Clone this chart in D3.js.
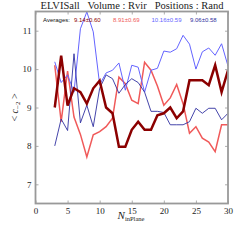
<!DOCTYPE html>
<html>
<head>
<meta charset="utf-8">
<script src="https://cdn.jsdelivr.net/npm/d3@7"></script>
<style>
body { margin: 0; background: #fff; }
svg { display: block; }
</style>
</head>
<body>
<div class="container"></div>
<script>
// Data
const nPlane = [3,4,5,6,7,8,9,10,11,12,13,14,15,16,17,18,19,20,21,22,23,24,25,26,27,28,29,30];
const darkRed = [9.0,10.35,9.05,9.5,9.4,9.1,9.5,9.7,9.0,8.85,7.98,7.98,8.42,8.63,8.42,8.42,8.8,8.85,9.0,8.72,8.9,9.71,9.71,9.71,9.58,10.1,9.4,9.97];
const lightRed = [10.1,8.63,9.95,8.75,8.3,7.71,8.29,8.37,8.5,8.72,9.79,9.62,9.19,9.1,10.18,9.97,9.56,9.06,9.25,9.6,9.1,8.33,8.5,8.2,8.1,7.85,8.55,8.55];
const lightBlue = [10.19,9.65,9.85,9.4,11.05,11.49,10.97,9.6,9.9,9.97,10.16,9.45,10.1,10.05,9.4,9.97,10.02,10.47,10.44,10.53,10.88,10.65,10.0,10.45,10.55,10.36,10.66,10.08];
const darkBlue = [8.0,8.7,8.4,10.4,8.6,9.06,8.5,9.5,9.85,9.75,9.37,9.6,9.75,9.65,9.4,8.9,8.9,8.87,8.55,8.55,8.55,8.63,8.98,8.85,8.98,8.98,8.68,8.85];
const averages = ["9.14\u00b10.60","8.91\u00b10.69","10.16\u00b10.59","9.06\u00b10.58"];
const xTicks = [0,5,10,15,20,25,30];
const yTicks = [7,8,9,10,11];

const w = 240, h = 240;
const padL = 35.5, padR = 228, padT = 11.5, padB = 203.5;

const series = [
  {vals: darkRed, color: "#8b0000", width: 2.5},
  {vals: lightRed, color: "#f05a5a", width: 1.5},
  {vals: lightBlue, color: "#6464ff", width: 1},
  {vals: darkBlue, color: "#3030a0", width: 0.9}
];

const xScale = d3.scaleLinear().domain([0,30]).range([padL, padR]);
const yScale = d3.scaleLinear().domain([6.5,11.5]).range([padB, padT]);

const svg = d3.select(".container").append("svg")
  .attr("width", w).attr("height", h);

svg.append("defs").append("clipPath").attr("id","clip")
  .append("rect").attr("x",padL).attr("y",padT)
  .attr("width",padR-padL).attr("height",padB-padT);

// lines (draw order so thick dark red sits on top)
const line = d3.line().x((d,i) => xScale(nPlane[i])).y(d => yScale(d));
const order = [1,2,3,0];
order.forEach(k => {
  const s = series[k];
  svg.append("path")
    .attr("clip-path","url(#clip)")
    .attr("d", line(s.vals))
    .attr("fill","none")
    .attr("stroke", s.color)
    .attr("stroke-width", s.width)
    .attr("stroke-linejoin","miter");
});

// axes
const serif = "'Liberation Serif', 'DejaVu Serif', serif";
const xAxis = d3.axisBottom(xScale).tickValues(xTicks).tickSize(-3).tickPadding(4).tickFormat(d3.format("d"));
const gx = svg.append("g").attr("transform", `translate(0,${padB})`).call(xAxis);
const yAxis = d3.axisLeft(yScale).tickValues(yTicks).tickSize(-3).tickPadding(4).tickFormat(d3.format("d"));
const gy = svg.append("g").attr("transform", `translate(${padL},0)`).call(yAxis);
const gx2 = svg.append("g").attr("transform", `translate(0,${padT})`)
  .call(d3.axisTop(xScale).tickValues(xTicks).tickSize(-3).tickFormat(""));
const gy2 = svg.append("g").attr("transform", `translate(${padR},0)`)
  .call(d3.axisRight(yScale).tickValues(yTicks).tickSize(-3).tickFormat(""));
[gx, gy, gx2, gy2].forEach(g => {
  g.select(".domain").remove();
  g.selectAll(".tick line").attr("stroke","#999").attr("stroke-width",0.8);
  g.selectAll("text").attr("fill","#222").style("font-family", serif).style("font-size","9px");
});

// frame
svg.append("rect")
  .attr("x", padL).attr("y", padT)
  .attr("width", padR-padL).attr("height", padB-padT)
  .attr("fill","none").attr("stroke","#999").attr("stroke-width",1.8);

// title
svg.append("text")
  .attr("x", 132).attr("y", 9)
  .attr("text-anchor","middle")
  .style("font-family", serif).style("font-size","10.5px")
  .style("white-space","pre")
  .attr("fill","#222")
  .text("ELVISall   Volume : Rvir   Positions : Rand");

// averages row
const sans = "'Liberation Sans', Arial, sans-serif";
svg.append("text").attr("x", 43).attr("y", 22)
  .style("font-family", sans).style("font-size","6px").attr("fill","#111")
  .text("Averages:");
const avgX = [74, 113, 151.5, 190];
averages.forEach((t,i) => {
  svg.append("text").attr("x", avgX[i]).attr("y", 22)
    .style("font-family", sans).style("font-size","6px")
    .attr("fill", series[i].color)
    .text(t);
});

// x label
const xl = svg.append("text")
  .attr("x", 131).attr("y", 219)
  .attr("text-anchor","middle")
  .style("font-family", serif).attr("fill","#222");
xl.append("tspan").style("font-style","italic").style("font-size","11px").text("N");
xl.append("tspan").attr("dy", 2).style("font-size","6.5px").text("inPlane");

// y label
const yl = svg.append("text")
  .attr("transform", `translate(18,${(padT+padB)/2}) rotate(-90)`)
  .attr("text-anchor","middle")
  .style("font-family", serif).attr("fill","#222").style("font-size","10px");
yl.append("tspan").text("< ");
yl.append("tspan").style("font-style","italic").text("c");
yl.append("tspan").attr("dy", 2).style("font-size","7px").text("\u22122");
yl.append("tspan").attr("dy", -2).text(" >");
</script>
</body>
</html>
